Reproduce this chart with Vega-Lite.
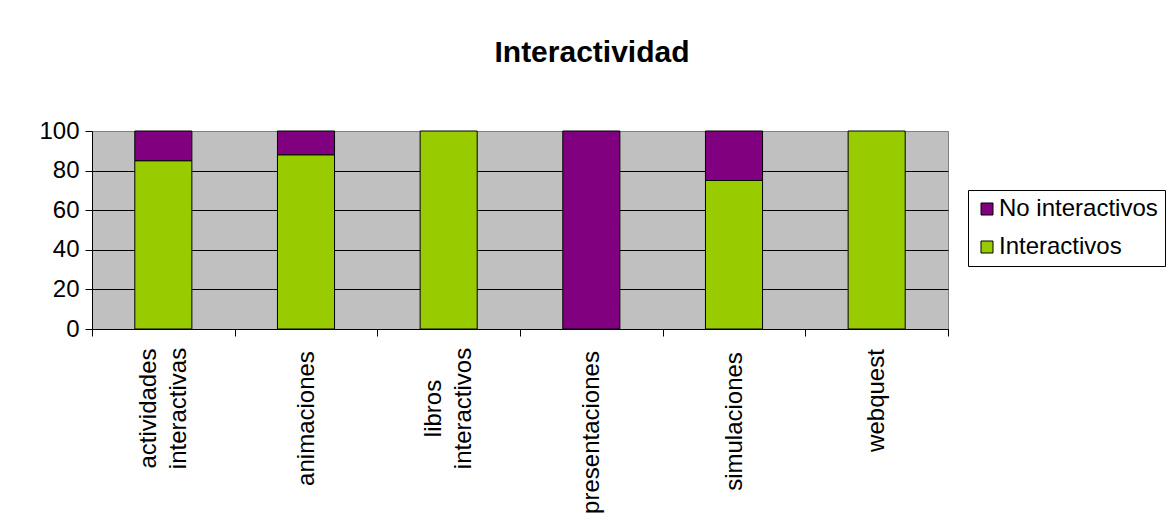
{
  "$schema": "https://vega.github.io/schema/vega-lite/v6.json",
  "width": 856,
  "height": 198,
  "autosize": "none",
  "padding": {"left": 92, "top": 131, "right": 218, "bottom": 202},
  "background": "white",
  "title": {
    "text": "Interactividad",
    "font": "Liberation Sans",
    "fontSize": 30,
    "fontWeight": "bold",
    "color": "black",
    "anchor": "middle",
    "dx": 72,
    "offset": 27,
    "baseline": "alphabetic"
  },
  "data": {
    "values": [
      {"categoria": "actividades interactivas", "serie": "Interactivos", "valor": 85},
      {"categoria": "actividades interactivas", "serie": "No interactivos", "valor": 15},
      {"categoria": "animaciones", "serie": "Interactivos", "valor": 88},
      {"categoria": "animaciones", "serie": "No interactivos", "valor": 12},
      {"categoria": "libros interactivos", "serie": "Interactivos", "valor": 100},
      {"categoria": "presentaciones", "serie": "No interactivos", "valor": 100},
      {"categoria": "simulaciones", "serie": "Interactivos", "valor": 75},
      {"categoria": "simulaciones", "serie": "No interactivos", "valor": 25},
      {"categoria": "webquest", "serie": "Interactivos", "valor": 100}
    ]
  },
  "mark": {"type": "bar", "stroke": "black", "strokeWidth": 1, "width": {"band": 0.4}},
  "encoding": {
    "x": {
      "field": "categoria",
      "type": "nominal",
      "sort": ["actividades interactivas", "animaciones", "libros interactivos", "presentaciones", "simulaciones", "webquest"],
      "scale": {"paddingInner": 0, "paddingOuter": 0},
      "axis": {
        "title": null,
        "labelAngle": 270,
        "labelFont": "Liberation Sans",
        "labelFontSize": 24,
        "labelColor": "black",
        "labelAlign": "center",
        "labelBaseline": "middle",
        "labelLineHeight": 30,
        "labelExpr": "split(datum.label, ' ')",
        "labelOverlap": false,
        "labelLimit": 0,
        "labelOffset": {
          "condition": [
            {"test": "datum.value == 'actividades interactivas'", "value": -15},
            {"test": "datum.value == 'libros interactivos'", "value": -15}
          ],
          "value": 0
        },
        "labelPadding": {
          "condition": [
            {"test": "datum.value == 'animaciones'", "value": 82},
            {"test": "datum.value == 'presentaciones'", "value": 96},
            {"test": "datum.value == 'simulaciones'", "value": 85},
            {"test": "datum.value == 'webquest'", "value": 64}
          ],
          "value": 72
        },
        "tickBand": "extent",
        "tickSize": 7,
        "tickColor": "black",
        "domainColor": "black",
        "grid": false
      }
    },
    "y": {
      "field": "valor",
      "type": "quantitative",
      "stack": "zero",
      "scale": {"domain": [0, 100]},
      "axis": {
        "title": null,
        "values": [0, 20, 40, 60, 80, 100],
        "labelFont": "Liberation Sans",
        "labelFontSize": 24,
        "labelColor": "black",
        "labelPadding": 6,
        "tickSize": 7,
        "tickColor": "black",
        "domainColor": "black",
        "grid": true,
        "gridColor": {"condition": {"test": "datum.value == 100", "value": "#808080"}, "value": "black"},
        "gridWidth": 1,
        "gridOpacity": 1
      }
    },
    "color": {
      "field": "serie",
      "type": "nominal",
      "scale": {"domain": ["No interactivos", "Interactivos"], "range": ["#800080", "#99CC00"]},
      "legend": {
        "title": null,
        "orient": "none",
        "legendX": 876,
        "legendY": 59,
        "symbolType": "square",
        "symbolSize": 144,
        "symbolStrokeColor": "black",
        "symbolStrokeWidth": 1,
        "labelFont": "Liberation Sans",
        "labelFontSize": 24,
        "labelColor": "black",
        "labelLimit": 300,
        "labelOffset": 0,
        "rowPadding": 14,
        "padding": 7,
        "strokeColor": "black",
        "fillColor": "white"
      }
    },
    "order": {"field": "serie"}
  },
  "config": {
    "view": {"fill": "#C0C0C0", "stroke": "#808080", "strokeWidth": 1}
  }
}
